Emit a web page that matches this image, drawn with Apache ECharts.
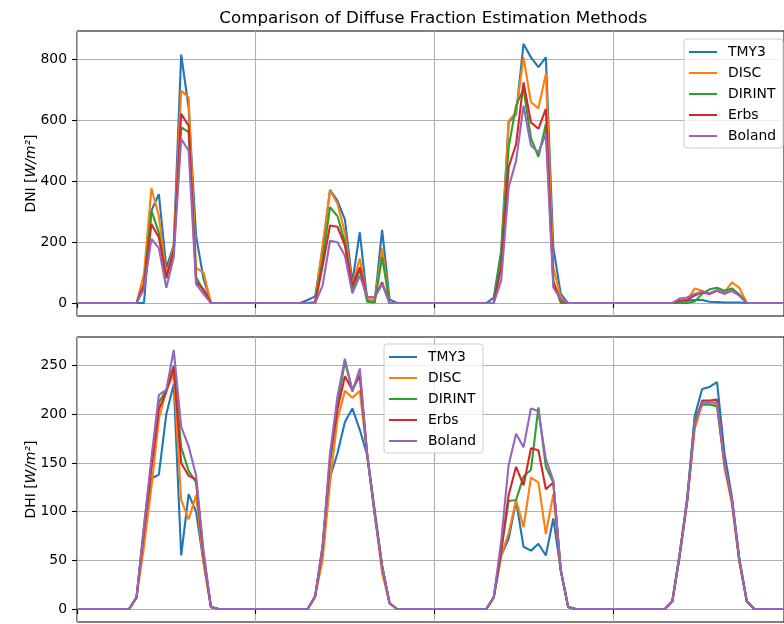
<!DOCTYPE html>
<html>
<head>
<meta charset="utf-8">
<title>Comparison of Diffuse Fraction Estimation Methods</title>
<script src="https://cdn.jsdelivr.net/npm/echarts@6.0.0/dist/echarts.min.js"></script>
<style>
  html, body { margin: 0; padding: 0; background: #fff; }
  #chart { width: 784px; height: 624px; }
</style>
</head>
<body>
<div id="chart"></div>
<script>
  // series names + matplotlib tab10 colours
  var names = ['TMY3', 'DISC', 'DIRINT', 'Erbs', 'Boland']
  var colors = ['#1f77b4', '#ff7f0e', '#2ca02c', '#d62728', '#9467bd']

  // ticks
  var hourTicks = [0, 24, 48, 72]
  var dniTicks = [0, 200, 400, 600, 800]
  var dhiTicks = [0, 50, 100, 150, 200, 250]

  // DNI, hourly values over 4 days (one row = one day)
  var dniTmy3 = [
    0, 0, 0, 0, 0, 0, 0, 0, 0, 0, 303, 357, 115, 190, 814, 640, 220, 80, 0, 0, 0, 0, 0, 0,
    0, 0, 0, 0, 0, 0, 0, 10, 22, 177, 371, 335, 273, 68, 232, 8, 3, 240, 12, 0, 0, 0, 0, 0,
    0, 0, 0, 0, 0, 0, 0, 0, 18, 172, 592, 619, 849, 805, 773, 805, 183, 30, 0, 0, 0, 0, 0, 0,
    0, 0, 0, 0, 0, 0, 0, 0, 0, 3, 8, 10, 10, 4, 3, 2, 2, 2, 0, 0, 0, 0, 0, 0
  ]
  var dniDisc = [
    0, 0, 0, 0, 0, 0, 0, 0, 0, 95, 376, 285, 90, 185, 696, 674, 115, 100, 0, 0, 0, 0, 0, 0,
    0, 0, 0, 0, 0, 0, 0, 0, 5, 190, 369, 325, 230, 57, 146, 13, 8, 179, 0, 0, 0, 0, 0, 0,
    0, 0, 0, 0, 0, 0, 0, 0, 0, 140, 596, 625, 805, 658, 638, 751, 117, 18, 0, 0, 0, 0, 0, 0,
    0, 0, 0, 0, 0, 0, 0, 0, 0, 5, 10, 48, 40, 30, 42, 35, 68, 50, 0, 0, 0, 0, 0, 0
  ]
  var dniDirint = [
    0, 0, 0, 0, 0, 0, 0, 0, 0, 62, 303, 230, 80, 175, 576, 560, 85, 40, 0, 0, 0, 0, 0, 0,
    0, 0, 0, 0, 0, 0, 0, 0, 0, 144, 314, 285, 200, 40, 111, 4, 2, 150, 0, 0, 0, 0, 0, 0,
    0, 0, 0, 0, 0, 0, 0, 0, 0, 160, 510, 647, 702, 540, 479, 587, 74, 0, 0, 0, 0, 0, 0, 0,
    0, 0, 0, 0, 0, 0, 0, 0, 0, 0, 0, 5, 30, 45, 50, 40, 48, 28, 0, 0, 0, 0, 0, 0
  ]
  var dniErbs = [
    0, 0, 0, 0, 0, 0, 0, 0, 0, 60, 259, 215, 85, 170, 620, 581, 70, 45, 0, 0, 0, 0, 0, 0,
    0, 0, 0, 0, 0, 0, 0, 0, 0, 121, 254, 250, 188, 57, 117, 20, 18, 68, 0, 0, 0, 0, 0, 0,
    0, 0, 0, 0, 0, 0, 0, 0, 0, 117, 445, 521, 723, 592, 571, 636, 68, 8, 0, 0, 0, 0, 0, 0,
    0, 0, 0, 0, 0, 0, 0, 0, 0, 8, 10, 25, 35, 30, 40, 30, 40, 25, 0, 0, 0, 0, 0, 0
  ]
  var dniBoland = [
    0, 0, 0, 0, 0, 0, 0, 0, 0, 46, 210, 180, 50, 150, 538, 499, 62, 30, 0, 0, 0, 0, 0, 0,
    0, 0, 0, 0, 0, 0, 0, 0, 0, 57, 204, 199, 155, 32, 90, 20, 18, 62, 0, 0, 0, 0, 0, 0,
    0, 0, 0, 0, 0, 0, 0, 0, 0, 74, 379, 466, 647, 516, 494, 554, 51, 13, 0, 0, 0, 0, 0, 0,
    0, 0, 0, 0, 0, 0, 0, 0, 0, 15, 18, 30, 38, 32, 42, 32, 40, 25, 0, 0, 0, 0, 0, 0
  ]

  // DHI
  var dhiTmy3 = [
    0, 0, 0, 0, 0, 0, 0, 0, 12, 75, 134, 138, 200, 231, 55, 118, 100, 48, 2, 0, 0, 0, 0, 0,
    0, 0, 0, 0, 0, 0, 0, 0, 13, 58, 135, 160, 192, 206, 184, 158, 98, 44, 6, 0, 0, 0, 0, 0,
    0, 0, 0, 0, 0, 0, 0, 0, 12, 55, 72, 111, 64, 60, 67, 55, 93, 40, 2, 0, 0, 0, 0, 0,
    0, 0, 0, 0, 0, 0, 0, 0, 8, 55, 112, 198, 226, 228, 233, 160, 115, 52, 8, 0, 0, 0, 0, 0
  ]
  var dhiDisc = [
    0, 0, 0, 0, 0, 0, 0, 0, 12, 64, 125, 195, 225, 241, 112, 92, 117, 48, 2, 0, 0, 0, 0, 0,
    0, 0, 0, 0, 0, 0, 0, 0, 13, 50, 130, 195, 224, 217, 224, 158, 98, 37, 6, 0, 0, 0, 0, 0,
    0, 0, 0, 0, 0, 0, 0, 0, 12, 55, 78, 112, 84, 135, 130, 77, 118, 40, 2, 0, 0, 0, 0, 0,
    0, 0, 0, 0, 0, 0, 0, 0, 8, 55, 110, 185, 210, 210, 210, 145, 108, 48, 8, 0, 0, 0, 0, 0
  ]
  var dhiDirint = [
    0, 0, 0, 0, 0, 0, 0, 0, 12, 85, 150, 212, 225, 250, 166, 142, 130, 55, 2, 0, 0, 0, 0, 0,
    0, 0, 0, 0, 0, 0, 0, 0, 13, 65, 150, 210, 254, 225, 240, 158, 102, 44, 6, 0, 0, 0, 0, 0,
    0, 0, 0, 0, 0, 0, 0, 0, 12, 60, 111, 112, 136, 143, 207, 146, 130, 40, 2, 0, 0, 0, 0, 0,
    0, 0, 0, 0, 0, 0, 0, 0, 8, 58, 115, 196, 210, 210, 208, 150, 112, 50, 8, 0, 0, 0, 0, 0
  ]
  var dhiErbs = [
    0, 0, 0, 0, 0, 0, 0, 0, 12, 80, 145, 205, 223, 248, 150, 137, 133, 55, 2, 0, 0, 0, 0, 0,
    0, 0, 0, 0, 0, 0, 0, 0, 13, 62, 155, 205, 239, 225, 240, 158, 98, 44, 6, 0, 0, 0, 0, 0,
    0, 0, 0, 0, 0, 0, 0, 0, 12, 60, 117, 146, 127, 165, 163, 123, 130, 40, 2, 0, 0, 0, 0, 0,
    0, 0, 0, 0, 0, 0, 0, 0, 8, 57, 112, 190, 214, 214, 215, 150, 112, 50, 8, 0, 0, 0, 0, 0
  ]
  var dhiBoland = [
    0, 0, 0, 0, 0, 0, 0, 0, 12, 85, 155, 220, 225, 266, 187, 167, 137, 60, 2, 0, 0, 0, 0, 0,
    0, 0, 0, 0, 0, 0, 0, 0, 13, 65, 160, 218, 257, 223, 247, 158, 98, 44, 6, 0, 0, 0, 0, 0,
    0, 0, 0, 0, 0, 0, 0, 0, 12, 70, 148, 180, 166, 206, 203, 154, 132, 40, 2, 0, 0, 0, 0, 0,
    0, 0, 0, 0, 0, 0, 0, 0, 8, 57, 112, 190, 212, 212, 212, 150, 112, 50, 8, 0, 0, 0, 0, 0
  ]

  var dniSeries = [dniTmy3, dniDisc, dniDirint, dniErbs, dniBoland]
  var dhiSeries = [dhiTmy3, dhiDisc, dhiDirint, dhiErbs, dhiBoland]

  var font = 'DejaVu Sans'

  // [hour, value] pairs for the value x axis
  function toPoints (values) {
    return values.map(function (v, i) { return [i, v] })
  }

  function makeX (gridIndex) {
    return {
      type: 'value',
      gridIndex: gridIndex,
      min: 0,
      max: 95,
      axisLine: { show: false },
      axisTick: { show: true, length: 5, customValues: hourTicks, lineStyle: { color: '#000', width: 1.1 } },
      axisLabel: { show: false },
      splitLine: { show: true, lineStyle: { color: '#b0b0b0', width: 1.1 } }
    }
  }

  function makeY (gridIndex, title, min, max, ticks) {
    return {
      type: 'value',
      gridIndex: gridIndex,
      min: min,
      max: max,
      name: '{n|' + title + ' [}{i|W/m²}{n|]}',
      nameLocation: 'middle',
      nameGap: 39,
      nameRotate: 90,
      nameMoveOverlap: false,
      nameTextStyle: {
        rich: {
          n: { fontFamily: font, fontSize: 13.9, color: '#000' },
          i: { fontFamily: font, fontSize: 13.9, color: '#000', fontStyle: 'italic' }
        }
      },
      axisLine: { show: false },
      axisTick: { show: true, length: 5, customValues: ticks, lineStyle: { color: '#000', width: 1.1 } },
      axisLabel: { customValues: ticks, margin: 10, fontFamily: font, fontSize: 13.9, color: '#000' },
      splitLine: { show: true, lineStyle: { color: '#b0b0b0', width: 1.1 } }
    }
  }

  function makeLegend (left, top) {
    return {
      data: names,
      orient: 'vertical',
      left: left,
      top: top,
      itemWidth: 28,
      itemHeight: 14,
      itemGap: 7,
      padding: [6, 7, 5, 4],
      // hide the round marker, keep only the line sample
      itemStyle: { opacity: 0 },
      backgroundColor: 'rgba(255,255,255,0.8)',
      borderColor: '#cccccc',
      borderWidth: 1,
      borderRadius: 3,
      textStyle: { fontFamily: font, fontSize: 13.9, color: '#000', padding: [0, 0, 0, 6] }
    }
  }

  var series = []
  names.forEach(function (name, i) {
    series.push({
      name: name, type: 'line', xAxisIndex: 0, yAxisIndex: 0,
      data: toPoints(dniSeries[i]), symbol: 'none', animation: false,
      lineStyle: { color: colors[i], width: 2.1 }, itemStyle: { color: colors[i] }
    })
  })
  names.forEach(function (name, i) {
    series.push({
      name: name, type: 'line', xAxisIndex: 1, yAxisIndex: 1,
      data: toPoints(dhiSeries[i]), symbol: 'none', animation: false,
      lineStyle: { color: colors[i], width: 2.1 }, itemStyle: { color: colors[i] }
    })
  })

  var option = {
    backgroundColor: '#fff',
    animation: false,
    title: {
      text: 'Comparison of Diffuse Fraction Estimation Methods',
      left: 433.25,
      top: 10,
      padding: 0,
      textAlign: 'center',
      textStyle: { fontFamily: font, fontSize: 16.7, fontWeight: 'normal', color: '#000' }
    },
    legend: [makeLegend(684, 39), makeLegend(384, 344)],
    grid: [
      { left: 77, top: 31, width: 712.5, height: 285, show: true, borderColor: '#000', borderWidth: 1 },
      { left: 77, top: 337, width: 712.5, height: 285, show: true, borderColor: '#000', borderWidth: 1 }
    ],
    xAxis: [makeX(0), makeX(1)],
    yAxis: [
      makeY(0, 'DNI', -42.45, 891.45, dniTicks),
      makeY(1, 'DHI', -13.3, 279.3, dhiTicks)
    ],
    series: series
  }

  var chart = echarts.init(document.getElementById('chart'))
  chart.setOption(option)
</script>
</body>
</html>
